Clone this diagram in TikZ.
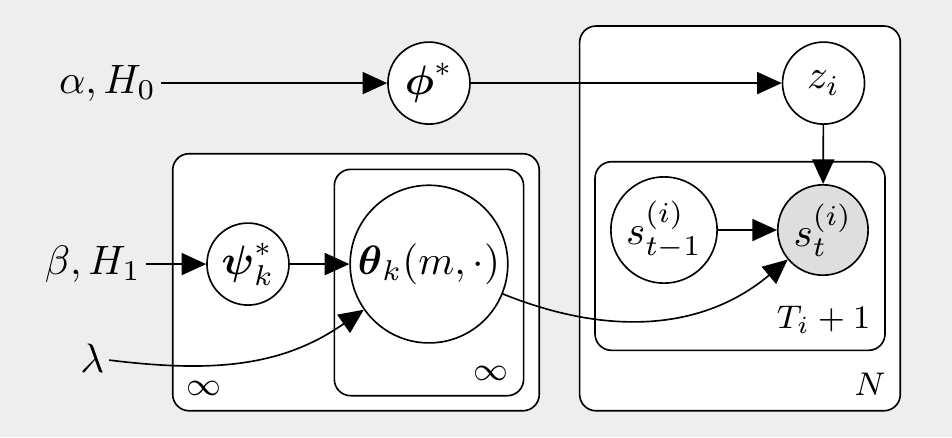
\documentclass[tikz,border=0pt]{standalone}
\usepackage{amsmath,amssymb}
\usepackage{xcolor}
\usetikzlibrary{arrows.meta}
\definecolor{bggray}{HTML}{EEEEEE}
\definecolor{obsgray}{HTML}{DEDEDE}
\tikzset{
	latent/.style={circle, draw=black, fill=white, inner sep=1pt, minimum size=20pt},
	obs/.style={latent, fill=obsgray},
	plate/.style={draw=black, fill=white, rounded corners=4pt},
	platelab/.style={font=\footnotesize, inner sep=0pt},
	hyper/.style={inner sep=1pt, anchor=east},
	edge/.style={-{Triangle[length=6pt, width=5.4pt]}, black}
}

\begin{document}
\begin{tikzpicture}
			\useasboundingbox[fill=bggray] (0, 0) rectangle (8.158, 3.745);

			% plates
			\draw[plate]	(1.480, 0.225) rectangle (4.621, 2.428);
			\draw[plate]	(2.865, 0.354) rectangle (4.487, 2.294);
			\draw[plate]	(4.967, 0.225) rectangle (7.715, 3.522);
			\draw[plate]	(5.099, 0.743) rectangle (7.584, 2.359);

			\node[platelab] (infout) at (1.748, 0.420) {$\infty$};
			\node[platelab] (infin) at (4.207, 0.548) {$\infty$};
			\node[platelab] (nlab) at (7.455, 0.454) {$N$};
			\node[platelab] (tlab) at (7.057, 1.003) {$T_i + 1$};

			% variables
			\node[hyper] (alpha) at (1.380, 3.033) {$\alpha, H_0$};
			\node[hyper] (beta) at (1.250, 1.482) {$\beta, H_1$};
			\node[hyper] (lambda) at (0.935, 0.677) {$\lambda$};

			\node[latent] (phi) at (3.676, 3.033) {$\boldsymbol{\phi}^{*}$};
			\node[latent] (z) at (7.057, 3.033) {$z_i$};
			\node[latent] (psi) at (2.125, 1.482) {$\boldsymbol{\psi}_k^{*}$};
			\node[latent] (theta) at (3.676, 1.482) {$\boldsymbol{\theta}_k(m, \cdot)$};
			\node[latent] (stm) at (5.690, 1.774) {$s_{t-1}^{(i)}$};
			\node[obs] (st) at (7.052, 1.774) {$s_{t}^{(i)}$};

			% edges
			\draw[edge]	(alpha) -- (phi);
			\draw[edge]	(phi) -- (z);
			\draw[edge]	(z) -- (st);
			\draw[edge]	(stm) -- (st);
			\draw[edge]	(beta) -- (psi);
			\draw[edge]	(psi) -- (theta);
			\draw[edge]	(lambda) to[out=-7, in=215] (theta);
			\draw[edge]	(theta) to[out=-22, in=220] (st);
		\end{tikzpicture}
\end{document}
